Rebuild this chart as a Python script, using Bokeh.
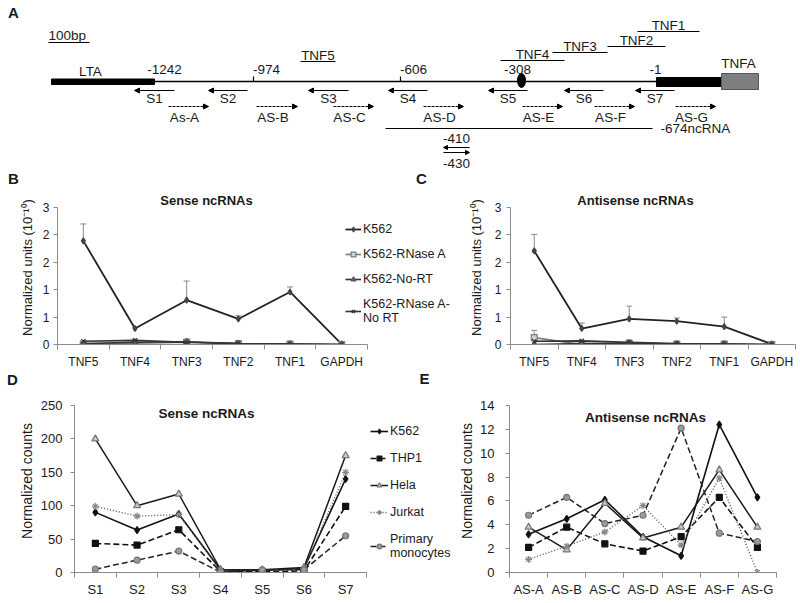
from bokeh.plotting import figure
from bokeh.models import (Range1d, ColumnDataSource, Arrow, NormalHead, Label, Legend,
                          LegendItem, FixedTicker, NumeralTickFormatter, Whisker, TeeHead)
from bokeh.layouts import column, row
from bokeh.core.properties import value
from bokeh.embed import file_html
from bokeh.resources import INLINE

FONT = "Liberation Sans"
TEXT = "#1a1a1a"
AXIS_GREY = "#8c8c8c"

# ---------------- Panel A: schematic (map units along the LTA-TNFA region) ----------------
LTA_EXON = [51, 154]
MAP_LINE = [154, 656]
TNFA_EXON_BLACK = [656, 721]
TNFA_EXON_GREY = [721, 758]
POS_LABELS = ["-1242", "-974", "-606", "-308", "-1"]
POS_LABEL_X = [164, 266, 413, 517, 655]
POS_TICKS = [253, 400]
SNP_POS = [521]
AMPLICONS = ["TNF5", "TNF4", "TNF3", "TNF2", "TNF1"]
AMP_START = [300, 500, 552, 607, 637]
AMP_END = [335, 564, 607, 665, 699]
AMP_ROW = [61, 60, 52, 46, 31]
S_NAMES = ["S1", "S2", "S3", "S4", "S5", "S6", "S7"]
S_TAIL = [174, 247, 348, 427, 527, 603, 674]
S_HEAD = [134, 208, 308, 388, 488, 564, 635]
AS_NAMES = ["As-A", "AS-B", "AS-C", "AS-D", "AS-E", "AS-F", "AS-G"]
AS_TAIL = [168, 256, 333, 423, 522, 594, 675]
AS_HEAD = [208, 297, 373, 463, 562, 634, 715]
NCRNA = [385, 652]
NCRNA_LABEL = "-674ncRNA"
SHORT_RNA_LABELS = ["-410", "-430"]
SHORT_RNA = [443, 469]
SCALE_BAR = [48, 89]
SCALE_LABEL = "100bp"
PANEL_LETTERS = ["A", "B", "C"]
PANEL_LETTER_X = [13, 13, 421]
PANEL_LETTER_Y = [12, 178, 178]
LOWER_LETTERS = ["D", "E"]
LOWER_LETTER_X = [12, 424]
LOWER_LETTER_Y = [379, 378]

# ---------------- Panels B / C: qPCR (normalized units, 10^-10) ----------------
QPCR_AMPLICONS = ["TNF5", "TNF4", "TNF3", "TNF2", "TNF1", "GAPDH"]
QPCR_SERIES = ["K562", "K562-RNase A", "K562-No-RT", "K562-RNase A-\nNo RT"]
QPCR_YTICKS = [0, 0.6, 1.2, 1.8, 2.4, 3.0]
SENSE_K562 = [2.27, 0.35, 0.97, 0.56, 1.15, 0.01]
SENSE_K562_ERR = [0.37, 0.03, 0.42, 0.07, 0.11, 0.0]
SENSE_RNASE = [0.01, 0.03, 0.05, 0.02, 0.01, 0.0]
SENSE_NORT = [0.02, 0.05, 0.06, 0.02, 0.01, 0.0]
SENSE_RNASE_NORT = [0.07, 0.09, 0.05, 0.02, 0.01, 0.0]
ANTI_K562 = [2.05, 0.35, 0.56, 0.51, 0.39, 0.01]
ANTI_K562_ERR = [0.36, 0.12, 0.28, 0.07, 0.21, 0.0]
ANTI_RNASE = [0.15, 0.0, 0.03, 0.01, 0.01, 0.0]
ANTI_RNASE_ERR = [0.16, 0.0, 0.0, 0.0, 0.0, 0.0]
ANTI_NORT = [0.0, 0.02, 0.03, 0.01, 0.01, 0.0]
ANTI_RNASE_NORT = [0.07, 0.08, 0.05, 0.02, 0.01, 0.0]

# ---------------- Panels D / E: sequencing counts ----------------
SENSE_PRIMERS = ["S1", "S2", "S3", "S4", "S5", "S6", "S7"]
ANTISENSE_PRIMERS = ["AS-A", "AS-B", "AS-C", "AS-D", "AS-E", "AS-F", "AS-G"]
CELL_LINES = ["K562", "THP1", "Hela", "Jurkat", "Primary\nmonocytes"]
D_K562 = [90, 63.5, 87.5, 4, 3, 6, 140]
D_THP1 = [43.5, 41, 64, 1.5, 1, 2.5, 99]
D_HELA = [200, 100, 117.5, 4.5, 4, 7.5, 175]
D_JURKAT = [99, 84.5, 86.5, 3, 3.5, 5, 150]
D_PRIMARY = [5, 18.5, 32, 0.5, 4, 4, 55]
E_K562 = [3.2, 4.5, 6.1, 3.0, 1.4, 12.4, 6.3]
E_THP1 = [2.1, 3.8, 2.4, 1.8, 3.0, 6.3, 2.1]
E_HELA = [3.8, 1.9, 5.8, 2.9, 3.8, 8.6, 3.8]
E_JURKAT = [1.1, 2.2, 3.4, 5.6, 2.3, 7.9, 0.0]
E_PRIMARY = [4.8, 6.3, 4.1, 4.8, 12.1, 3.3, 2.6]
D_YTICKS = [0, 50, 100, 150, 200, 250]
E_YTICKS = [0, 2, 4, 6, 8, 10, 12, 14]

# ---------------- styles ----------------
QPCR_STYLES = [
    dict(line_color="#222222", line_width=1.8, line_dash="solid", marker="diamond", size=6, fill_color="#444444", mline="#444444"),
    dict(line_color="#7a7a7a", line_width=1.6, line_dash="solid", marker="square", size=6, fill_color="#d0d0d0", mline="#7a7a7a"),
    dict(line_color="#333333", line_width=1.6, line_dash="solid", marker="triangle", size=6, fill_color="#666666", mline="#555555"),
    dict(line_color="#333333", line_width=1.6, line_dash="solid", marker="x", size=6, fill_color="#333333", mline="#333333"),
]
CELL_STYLES = [
    dict(line_color="#111111", line_width=1.6, line_dash="solid", marker="diamond", size=7, fill_color="#111111", mline="#111111"),
    dict(line_color="#111111", line_width=1.6, line_dash="6 3", marker="square", size=6, fill_color="#111111", mline="#111111"),
    dict(line_color="#1a1a1a", line_width=1.5, line_dash="solid", marker="triangle", size=7, fill_color="#c8c8c8", mline="#777777"),
    dict(line_color="#555555", line_width=1.4, line_dash="1 2", marker="asterisk", size=7, fill_color="#888888", mline="#888888"),
    dict(line_color="#222222", line_width=1.5, line_dash="6 3", marker="circle", size=6, fill_color="#9a9a9a", mline="#777777"),
]


def canvas_text(p, x, y, text, size, bold=False, align="center"):
    p.add_layout(Label(x=x, y=y, x_units="canvas", y_units="canvas", text=text,
                       text_font=FONT, text_font_size=f"{size}px",
                       text_font_style="bold" if bold else "normal",
                       text_align=align, text_baseline="middle", text_color=TEXT))


def make_panel(width, height, left, right, bottom, cats, axis_px, y_top, y_top_px, y_ticks,
               y_label, tick_size, ylabel_size, x_standoff, y_standoff, label_standoff, y_fmt=None):
    frame_w = width - left - right
    frame_h = height - bottom
    n = len(cats)
    p = figure(width=width, height=height,
               x_range=Range1d(0, n * frame_w / axis_px),
               y_range=Range1d(0, y_top * frame_h / y_top_px),
               output_backend="svg", toolbar_location=None,
               min_border_left=left, min_border_right=right, min_border_top=0,
               min_border_bottom=bottom, outline_line_color=None,
               background_fill_color="white", border_fill_color="white")
    p.xgrid.visible = False
    p.ygrid.visible = False
    xs = [i + 0.5 for i in range(n)]
    xa = p.xaxis[0]
    xa.bounds = (0, n)
    xa.ticker = FixedTicker(ticks=xs, minor_ticks=list(range(n + 1)))
    xa.major_label_overrides = {x: c for x, c in zip(xs, cats)}
    xa.major_tick_line_color = None
    xa.major_tick_in = 0
    xa.major_tick_out = 0
    xa.minor_tick_in = 0
    xa.minor_tick_out = 5
    xa.minor_tick_line_color = AXIS_GREY
    xa.axis_line_color = AXIS_GREY
    xa.major_label_standoff = x_standoff
    xa.major_label_text_font = FONT
    xa.major_label_text_font_size = f"{tick_size}px"
    xa.major_label_text_color = TEXT
    ya = p.yaxis[0]
    ya.bounds = (0, y_top)
    ya.ticker = FixedTicker(ticks=y_ticks)
    if y_fmt:
        ya.formatter = NumeralTickFormatter(format=y_fmt)
    ya.major_tick_in = 0
    ya.major_tick_out = 4
    ya.minor_tick_line_color = None
    ya.major_tick_line_color = AXIS_GREY
    ya.axis_line_color = AXIS_GREY
    ya.major_label_standoff = y_standoff
    ya.major_label_text_font = FONT
    ya.major_label_text_font_size = f"{tick_size}px"
    ya.major_label_text_color = TEXT
    ya.axis_label = y_label
    ya.axis_label_text_font = FONT
    ya.axis_label_text_font_style = "normal"
    ya.axis_label_text_font_size = f"{ylabel_size}px"
    ya.axis_label_text_color = TEXT
    ya.axis_label_standoff = label_standoff
    return p, xs


def add_series(p, xs, ys, st):
    lr = p.line(xs, ys, line_color=st["line_color"], line_width=st["line_width"],
                line_dash=st["line_dash"])
    sr = p.scatter(xs, ys, marker=st["marker"], size=st["size"], fill_color=st["fill_color"],
                   line_color=st["mline"], line_width=1.2)
    return [lr, sr]


def add_errors(p, xs, ys, errs):
    keep = [i for i, e in enumerate(errs) if e > 0]
    src = ColumnDataSource(dict(x=[xs[i] for i in keep], lo=[ys[i] for i in keep],
                                hi=[ys[i] + errs[i] for i in keep]))
    p.add_layout(Whisker(source=src, base="x", lower="lo", upper="hi", dimension="height",
                         lower_head=None, upper_head=TeeHead(size=6, line_color="#8a8a8a", line_width=1),
                         line_color="#8a8a8a", line_width=1))


def make_legend(p, items, loc, spacing, glyph_w):
    leg = Legend(items=items, location=loc, padding=0, margin=0, border_line_color=None,
                 background_fill_alpha=0, glyph_width=glyph_w, glyph_height=12,
                 label_height=12, spacing=spacing, label_standoff=2,
                 label_text_font=FONT, label_text_font_size="12.5px", label_text_color=TEXT)
    p.add_layout(leg)


# ================= Panel A (also hosts letters B and C) =================
pA = figure(width=800, height=190, x_range=Range1d(0, 800), y_range=Range1d(190, 0),
            output_backend="svg", toolbar_location=None, min_border=0,
            x_axis_location=None, y_axis_location=None, outline_line_color=None)
pA.grid.visible = False

MAP_Y = 81
pA.segment(x0=[MAP_LINE[0]], y0=[MAP_Y], x1=[MAP_LINE[1]], y1=[MAP_Y], line_color="black", line_width=1.5)
pA.quad(left=[LTA_EXON[0]], right=[LTA_EXON[1]], top=[78.5], bottom=[84], color="black")
pA.quad(left=[TNFA_EXON_BLACK[0]], right=[TNFA_EXON_BLACK[1]], top=[77], bottom=[86], color="black")
pA.quad(left=[TNFA_EXON_GREY[0]], right=[TNFA_EXON_GREY[1]], top=[73], bottom=[89],
        fill_color="#7f7f7f", line_color="#555555", line_width=1)
pA.ellipse(x=SNP_POS, y=[80], width=8, height=14, width_units="screen", height_units="screen",
           color="black")
pA.segment(x0=POS_TICKS, y0=[76] * len(POS_TICKS), x1=POS_TICKS, y1=[81] * len(POS_TICKS),
           line_color="black", line_width=1.2)

txt = dict(text_font=value(FONT), text_font_size="13.5px", text_color=TEXT,
           text_baseline="middle")
pA.text(x=POS_LABEL_X, y=[69] * len(POS_LABELS), text=POS_LABELS, text_align="center", **txt)
pA.text(x=[90], y=[71], text=["LTA"], text_align="center", **txt)
pA.text(x=[738], y=[63], text=["TNFA"], text_align="center", **txt)

pA.segment(x0=AMP_START, y0=AMP_ROW, x1=AMP_END, y1=AMP_ROW, line_color="black", line_width=1.2)
pA.text(x=[(a + b) / 2 for a, b in zip(AMP_START, AMP_END)], y=[r - 6 for r in AMP_ROW],
        text=AMPLICONS, text_align="center", **txt)

S_Y = 90
s_src = ColumnDataSource(dict(x0=S_TAIL, x1=S_HEAD, y=[S_Y] * len(S_TAIL)))
pA.add_layout(Arrow(source=s_src, x_start="x0", y_start="y", x_end="x1", y_end="y",
                    line_color="black", line_width=1.2,
                    end=NormalHead(size=5, fill_color="black", line_color="black", line_width=1)))
pA.text(x=[(a + b) / 2 for a, b in zip(S_TAIL, S_HEAD)], y=[S_Y + 8] * len(S_NAMES),
        text=S_NAMES, text_align="center", **txt)

AS_Y = 106
as_src = ColumnDataSource(dict(x0=AS_TAIL, x1=AS_HEAD, y=[AS_Y] * len(AS_TAIL)))
pA.add_layout(Arrow(source=as_src, x_start="x0", y_start="y", x_end="x1", y_end="y",
                    line_color="black", line_width=1.2, line_dash="3 1",
                    end=NormalHead(size=5, fill_color="black", line_color="black", line_width=1)))
pA.text(x=[(a + b) / 2 - 4 for a, b in zip(AS_TAIL, AS_HEAD)], y=[AS_Y + 11] * len(AS_NAMES),
        text=AS_NAMES, text_align="center", **txt)

NC_Y = 128
pA.segment(x0=[NCRNA[0]], y0=[NC_Y], x1=[NCRNA[1]], y1=[NC_Y], line_color="black", line_width=1.2)
pA.text(x=[NCRNA[1] + 8], y=[NC_Y], text=[NCRNA_LABEL], text_align="left", **txt)

r_src = ColumnDataSource(dict(x0=[SHORT_RNA[1], SHORT_RNA[0]], x1=[SHORT_RNA[0], SHORT_RNA[1]],
                              y=[147, 152]))
pA.add_layout(Arrow(source=r_src, x_start="x0", y_start="y", x_end="x1", y_end="y",
                    line_color="black", line_width=1.2,
                    end=NormalHead(size=4, fill_color="black", line_color="black", line_width=1)))
mid_r = (SHORT_RNA[0] + SHORT_RNA[1]) / 2
pA.text(x=[mid_r, mid_r], y=[138, 163], text=SHORT_RNA_LABELS, text_align="center", **txt)

pA.text(x=[SCALE_BAR[0]], y=[35], text=[SCALE_LABEL], text_align="left", **txt)
pA.segment(x0=[SCALE_BAR[0]], y0=[42], x1=[SCALE_BAR[1]], y1=[42], line_color="black", line_width=1)

letter = dict(text_font=value(FONT), text_font_size="15px", text_font_style="bold",
              text_color=TEXT, text_baseline="middle", text_align="center")
pA.text(x=PANEL_LETTER_X, y=PANEL_LETTER_Y, text=PANEL_LETTERS, **letter)

# ================= Panel B =================
pB, xsB = make_panel(455, 181, 57, 0, 27, QPCR_AMPLICONS, 310, 3.0, 137, QPCR_YTICKS,
                     "Normalized units (10\u207b\u00b9\u2070)", 12, 13, 5, 4, 5, y_fmt="0")
b_vals = [SENSE_K562, SENSE_RNASE, SENSE_NORT, SENSE_RNASE_NORT]
add_errors(pB, xsB, SENSE_K562, SENSE_K562_ERR)
b_items = []
for name, vals, st in zip(QPCR_SERIES, b_vals, QPCR_STYLES):
    b_items.append(LegendItem(label=name, renderers=add_series(pB, xsB, vals, st)))
make_legend(pB, b_items, (288, 19), 11, 16)
canvas_text(pB, 206, 10, "Sense ncRNAs", 13, bold=True)

# ================= Panel C =================
pC, xsC = make_panel(345, 181, 55, 5, 27, QPCR_AMPLICONS, 285, 3.0, 137, QPCR_YTICKS,
                     "Normalized units (10\u207b\u00b9\u2070)", 12, 13, 5, 5, 8, y_fmt="0")
c_vals = [ANTI_K562, ANTI_RNASE, ANTI_NORT, ANTI_RNASE_NORT]
add_errors(pC, xsC, ANTI_K562, ANTI_K562_ERR)
add_errors(pC, xsC, ANTI_RNASE, ANTI_RNASE_ERR)
for vals, st in zip(c_vals, QPCR_STYLES):
    add_series(pC, xsC, vals, st)
canvas_text(pC, 180, 10, "Antisense ncRNAs", 13, bold=True)

# ================= strip with letters D and E =================
pL = figure(width=800, height=18, x_range=Range1d(0, 800), y_range=Range1d(389, 371),
            output_backend="svg", toolbar_location=None, min_border=0,
            x_axis_location=None, y_axis_location=None, outline_line_color=None)
pL.grid.visible = False
pL.text(x=LOWER_LETTER_X, y=LOWER_LETTER_Y, text=LOWER_LETTERS, **letter)

# ================= Panel D =================
pD, xsD = make_panel(455, 214, 74, 0, 31, SENSE_PRIMERS, 292, 250, 167, D_YTICKS,
                     "Normalized counts", 13, 14, 4, 8, 3)
d_vals = [D_K562, D_THP1, D_HELA, D_JURKAT, D_PRIMARY]
d_items = []
for name, vals, st in zip(CELL_LINES, d_vals, CELL_STYLES):
    d_items.append(LegendItem(label=name, renderers=add_series(pD, xsD, vals, st)))
make_legend(pD, d_items, (296, 12), 13, 18)
canvas_text(pD, 206, 24, "Sense ncRNAs", 13.5, bold=True)

# ================= Panel E =================
pE, xsE = make_panel(345, 214, 54, 24, 31, ANTISENSE_PRIMERS, 267, 14, 167, E_YTICKS,
                     "Normalized counts", 13, 14, 4, 11, 2)
e_vals = [E_K562, E_THP1, E_HELA, E_JURKAT, E_PRIMARY]
for vals, st in zip(e_vals, CELL_STYLES):
    add_series(pE, xsE, vals, st)
canvas_text(pE, 190, 28, "Antisense ncRNAs", 13.5, bold=True)

layout = column(pA, row(pB, pC), pL, row(pD, pE))
open("out.html", "w").write(file_html(layout, INLINE))
